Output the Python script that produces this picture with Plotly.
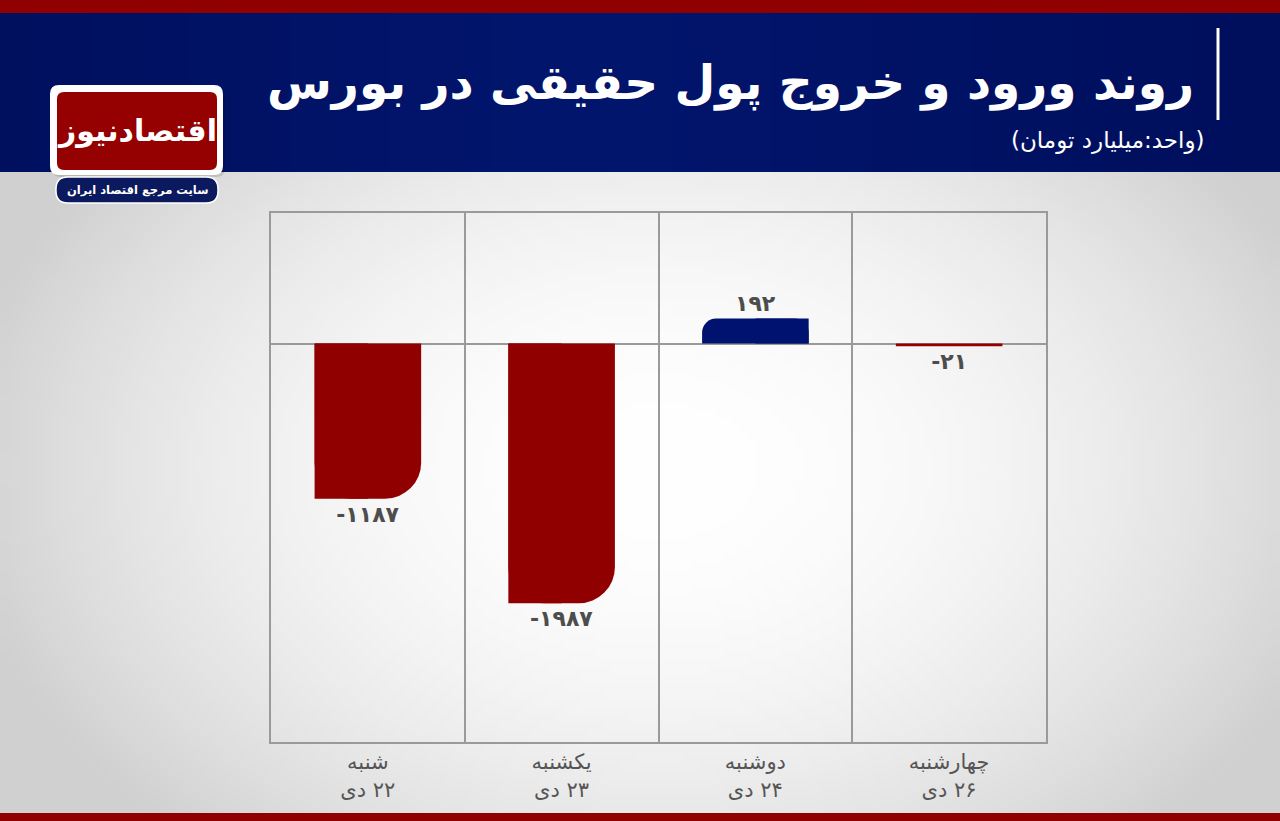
import plotly.graph_objects as go
import zlib, struct, base64, math

# ---------------- data ----------------
days = ["شنبه", "یکشنبه", "دوشنبه", "چهارشنبه"]
dates = ["۲۲ دی", "۲۳ دی", "۲۴ دی", "۲۶ دی"]
values = [-1187, -1987, 192, -21]
value_labels = ["-۱۱۸۷", "-۱۹۸۷", "۱۹۲", "-۲۱"]
title_text = "روند ورود و خروج پول حقیقی در بورس"
subtitle_text = "(واحد:میلیارد تومان)"
logo_name = "اقتصادنیوز"
logo_tag = "سایت مرجع اقتصاد ایران"

RLE, PDF, RLM = "\u202b", "\u202c", "\u200f"
categories = [f"{d}<br>{RLM}{dt}" for d, dt in zip(days, dates)]

RED = "#900000"
NAVY = "#001270"
FONT = "DejaVu Sans"

# ---------------- helpers ----------------
W_FIG, H_FIG = 1280, 821
L, R, T, B = 271, 1046, 213, 742


def px(x):
    return (x - L) / (R - L)


def py(y):
    return (B - y) / (B - T)


def png_uri(w, h, pix):
    raw = b"".join(b"\x00" + b"".join(bytes(pix(x, y)) for x in range(w)) for y in range(h))

    def chunk(t, d):
        c = struct.pack(">I", len(d)) + t + d
        return c + struct.pack(">I", zlib.crc32(t + d) & 0xFFFFFFFF)

    data = (b"\x89PNG\r\n\x1a\n"
            + chunk(b"IHDR", struct.pack(">IIBBBBB", w, h, 8, 2, 0, 0, 0))
            + chunk(b"IDAT", zlib.compress(raw, 9))
            + chunk(b"IEND", b""))
    return "data:image/png;base64," + base64.b64encode(data).decode()


def bg_pix(x, y):
    X = (x + 0.5) / 160 * W_FIG
    Y = (y + 0.5) / 103 * H_FIG
    d2 = ((X - 660) / 640) ** 2 + ((Y - 470) / 450) ** 2
    v = int(max(208, min(255, 255 - 38 * d2)))
    return (v, v, v)


def hdr_pix(x, y):
    t = abs((x + 0.5) / 64 - 0.45) / 0.55
    t = min(1, t)
    c0 = (2, 22, 110)
    c1 = (0, 15, 92)
    return tuple(int(c0[i] + (c1[i] - c0[i]) * t) for i in range(3))


def f(v):
    return f"{v:.5f}"


def rrect(x0, y0, x1, y1, r):
    return (f"M {f(px(x0 + r))},{f(py(y0))} L {f(px(x1 - r))},{f(py(y0))} "
            f"Q {f(px(x1))},{f(py(y0))} {f(px(x1))},{f(py(y0 + r))} "
            f"L {f(px(x1))},{f(py(y1 - r))} Q {f(px(x1))},{f(py(y1))} {f(px(x1 - r))},{f(py(y1))} "
            f"L {f(px(x0 + r))},{f(py(y1))} Q {f(px(x0))},{f(py(y1))} {f(px(x0))},{f(py(y1 - r))} "
            f"L {f(px(x0))},{f(py(y0 + r))} Q {f(px(x0))},{f(py(y0))} {f(px(x0 + r))},{f(py(y0))} Z")


def rect(x0, y0, x1, y1, color):
    return dict(type="rect", xref="paper", yref="paper", x0=px(x0), x1=px(x1),
                y0=py(y1), y1=py(y0), fillcolor=color, line=dict(width=0), layer="below")


def path(d, color, line=None):
    return dict(type="path", xref="paper", yref="paper", path=d, fillcolor=color,
                line=line or dict(width=0), layer="below")


# ---------------- traces ----------------
BW = 0.55
neg_big = [v if (v < 0 and abs(v) >= 100) else None for v in values]
neg_small = [v if (v < 0 and abs(v) < 100) else None for v in values]
pos = [v if v > 0 else None for v in values]


def lab(arr):
    return [value_labels[i] if arr[i] is not None else "" for i in range(len(arr))]


label_font = dict(family=FONT, size=22, color="#4d4d4d", weight="bold")
common = dict(x=categories, hoverinfo="skip", cliponaxis=False, showlegend=False)

fig = go.Figure()
fig.add_trace(go.Bar(y=neg_big, width=BW, offset=-BW / 2, marker=dict(color=RED, cornerradius=36, line=dict(width=0)),
                     text=lab(neg_big), textposition="outside", textfont=label_font, **common))
fig.add_trace(go.Bar(y=neg_big, width=BW / 2, offset=-BW / 2, marker=dict(color=RED, line=dict(width=0)), **common))
fig.add_trace(go.Bar(y=pos, width=BW, offset=-BW / 2, marker=dict(color=NAVY, cornerradius=14, line=dict(width=0)),
                     text=lab(pos), textposition="outside", textfont=label_font, **common))
fig.add_trace(go.Bar(y=pos, width=BW / 2, offset=0, marker=dict(color=NAVY, line=dict(width=0)), **common))
fig.add_trace(go.Bar(y=neg_small, width=BW, offset=-BW / 2, marker=dict(color=RED, line=dict(width=0)),
                     text=lab(neg_small), textposition="outside", textfont=label_font, **common))

# ---------------- decoration ----------------
shapes = [
    rect(0, 0, 1280, 13, "#910000"),
    rect(0, 813, 1280, 821, "#910000"),
    # logo
    path(rrect(52, 87, 225, 177, 9), "rgba(0,0,0,0.12)"),
    path(rrect(50, 85, 223, 175, 9), "#ffffff"),
    path(rrect(57, 92, 217, 170, 7), "#950000"),
    path(rrect(56, 177, 218, 203, 12), "#0b1a5e", line=dict(color="#ffffff", width=1.5)),
    # vertical bar by title
    dict(type="line", xref="paper", yref="paper", x0=px(1218), x1=px(1218), y0=py(28), y1=py(120),
         line=dict(color="#ffffff", width=3)),
]

images = [
    dict(source=png_uri(160, 103, bg_pix), xref="paper", yref="paper", x=px(0), y=py(0),
         sizex=W_FIG / (R - L), sizey=H_FIG / (B - T), sizing="stretch", xanchor="left", yanchor="top",
         layer="below"),
    dict(source=png_uri(64, 2, hdr_pix), xref="paper", yref="paper", x=px(0), y=py(13),
         sizex=W_FIG / (R - L), sizey=(172 - 13) / (B - T), sizing="stretch", xanchor="left", yanchor="top",
         layer="below"),
]

annotations = [
    dict(text=RLE + title_text + PDF, xref="paper", yref="paper", x=px(1196), y=py(83),
         xanchor="right", yanchor="middle", showarrow=False,
         font=dict(family=FONT, size=47, color="#ffffff", weight="bold")),
    dict(text=RLE + subtitle_text + PDF, xref="paper", yref="paper", x=px(1206), y=py(140),
         xanchor="right", yanchor="middle", showarrow=False,
         font=dict(family=FONT, size=23, color="#ffffff")),
    dict(text=logo_name, xref="paper", yref="paper", x=px(137), y=py(130),
         xanchor="center", yanchor="middle", showarrow=False,
         font=dict(family=FONT, size=30, color="#ffffff", weight="bold")),
    dict(text=RLE + logo_tag + PDF, xref="paper", yref="paper", x=px(137), y=py(190),
         xanchor="center", yanchor="middle", showarrow=False,
         font=dict(family=FONT, size=11.5, color="#ffffff", weight="bold")),
]

GRID = "#9a9a9a"
fig.update_layout(
    width=W_FIG, height=H_FIG,
    margin=dict(l=L, r=W_FIG - R, t=T, b=H_FIG - B, pad=0),
    paper_bgcolor="#e4e4e4", plot_bgcolor="rgba(0,0,0,0)",
    barmode="overlay", showlegend=False,
    shapes=shapes, images=images, annotations=annotations,
    xaxis=dict(type="category", categoryorder="array", categoryarray=categories, range=[-0.5, 3.5],
               tickson="boundaries", showgrid=True, gridcolor=GRID, gridwidth=2,
               showline=True, mirror=True, linecolor=GRID, linewidth=2, ticks="",
               tickfont=dict(family=FONT, size=21, color="#555555"), fixedrange=True),
    yaxis=dict(range=[-3050, 1000], showgrid=False, zeroline=True, zerolinecolor=GRID, zerolinewidth=2,
               showticklabels=False, ticks="", showline=True, mirror=True, linecolor=GRID, linewidth=2,
               fixedrange=True),
)

fig.write_html("out.html", config={"displayModeBar": False, "staticPlot": True},
               post_script="document.body.style.margin='0';document.body.style.overflow='hidden';")
